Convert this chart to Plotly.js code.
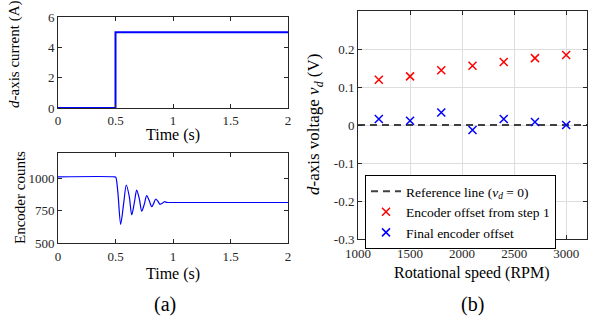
<!DOCTYPE html>
<html><head><meta charset="utf-8">
<script src="https://cdn.plot.ly/plotly-3.0.1.min.js"></script>
<style>html,body{margin:0;padding:0;background:#fff}#plot{width:591px;height:324px}</style>
</head><body><div id="plot"></div>
<script>
// Panel (a) top: d-axis current step
var curT = [0, 0.5, 0.5, 2];
var curI = [0, 0, 5, 5];
// Panel (a) bottom: encoder counts
var encT = [0, 0.49, 0.502, 0.52, 0.545, 0.57, 0.594, 0.62, 0.641, 0.665, 0.684, 0.707, 0.728, 0.75, 0.771, 0.793, 0.815, 0.833, 0.85, 0.868, 0.887, 0.906, 0.925, 0.945, 0.965, 2];
var encC = [1015, 1015, 1012, 900, 645, 800, 951, 860, 718, 820, 912, 845, 748, 800, 868, 830, 782, 810, 842, 825, 801, 808, 821, 816, 815, 815];
// Panel (b): d-axis voltage vs speed
var speed = [1200, 1500, 1800, 2100, 2400, 2700, 3000];
var vdStep1 = [0.119, 0.128, 0.144, 0.156, 0.166, 0.176, 0.184];
var vdFinal = [0.016, 0.011, 0.033, -0.013, 0.016, 0.008, 0.0];
var refX = [1000, 3200];
var refY = [0, 0];

var W = 591, H = 324;
function px(x){return x/W;}
function py(y){return 1 - y/H;}
var serif = "Liberation Serif";
var axc = "#262626";

var traces = [
  {x: curT, y: curI, xaxis: 'x', yaxis: 'y', mode: 'lines', line: {color: '#0000ff', width: 2}, showlegend: false},
  {x: encT, y: encC, xaxis: 'x2', yaxis: 'y2', mode: 'lines', line: {color: '#0000ff', width: 1.2, shape: 'spline', smoothing: 0.8}, showlegend: false},
  {x: refX, y: refY, xaxis: 'x3', yaxis: 'y3', mode: 'lines', name: 'Reference line (<i>v<sub>d</sub></i> = 0)', line: {color: '#404040', width: 2, dash: '7px,5px'}},
  {x: speed, y: vdStep1, xaxis: 'x3', yaxis: 'y3', mode: 'markers', name: 'Encoder offset from step 1', marker: {symbol: 'x-thin-open', size: 8, color: '#ff0000', line: {color: '#ff0000', width: 1.5}}},
  {x: speed, y: vdFinal, xaxis: 'x3', yaxis: 'y3', mode: 'markers', name: 'Final encoder offset', marker: {symbol: 'x-thin-open', size: 8, color: '#0000ff', line: {color: '#0000ff', width: 1.5}}}
];

function ax(extra){
  var base = {showline: true, linecolor: axc, linewidth: 1, mirror: 'ticks', ticks: 'inside', ticklen: 4, tickcolor: axc,
    tickfont: {family: serif, size: 13, color: axc}, zeroline: false, showgrid: false, fixedrange: true};
  for (var k in extra) base[k] = extra[k];
  return base;
}
function ann(text, x, y, size, angle){
  return {text: text, x: px(x), y: py(y), xref: 'paper', yref: 'paper', xanchor: 'center', yanchor: 'middle',
    textangle: angle || 0, showarrow: false, font: {size: size, family: serif, color: '#000'}};
}

var layout = {
  width: W, height: H, margin: {l: 0, r: 0, t: 0, b: 0},
  paper_bgcolor: '#fff', plot_bgcolor: '#fff',
  font: {family: serif, color: axc},
  xaxis: ax({domain: [px(58), px(288)], range: [0, 2], tickvals: [0, 0.5, 1, 1.5, 2], ticktext: ['0','0.5','1','1.5','2'], anchor: 'y', ticklabelstandoff: 0}),
  yaxis: ax({domain: [py(108), py(17)], range: [0, 6], tickvals: [0, 2, 4, 6], anchor: 'x'}),
  xaxis2: ax({domain: [px(58), px(288)], range: [0, 2], tickvals: [0, 0.5, 1, 1.5, 2], ticktext: ['0','0.5','1','1.5','2'], anchor: 'y2', ticklabelstandoff: 1}),
  yaxis2: ax({domain: [py(243), py(153)], range: [500, 1200], tickvals: [500, 750, 1000], anchor: 'x2'}),
  xaxis3: ax({domain: [px(358), px(587)], range: [1000, 3200], tickvals: [1000, 1500, 2000, 2500, 3000], anchor: 'y3', showgrid: true, gridcolor: '#dedede', ticklabelstandoff: 2}),
  yaxis3: ax({domain: [py(239), py(11)], range: [-0.3, 0.3], tickvals: [-0.3, -0.2, -0.1, 0, 0.1, 0.2], ticktext: ['-0.3','-0.2','-0.1','0','0.1','0.2'], anchor: 'x3', showgrid: true, gridcolor: '#dedede'}),
  showlegend: true,
  legend: {x: px(365), y: py(175), xanchor: 'left', yanchor: 'top', bgcolor: '#fff', bordercolor: '#000', borderwidth: 1,
    font: {family: serif, size: 13.5, color: '#000'}, itemwidth: 30, tracegroupgap: 0},
  annotations: [
    ann('<i>d</i>-axis current (A)', 15, 55, 15, -90),
    ann('Time (s)', 173, 135, 16),
    ann('Encoder counts', 20, 198, 15, -90),
    ann('Time (s)', 173, 274, 16),
    ann('(a)', 165, 304, 20),
    ann('<i>d</i>-axis voltage <i>v<sub>d</sub></i> (V)', 315, 125, 17, -90),
    ann('Rotational speed (RPM)', 472, 273, 16),
    ann('(b)', 472, 304, 20)
  ]
};

Plotly.newPlot('plot', traces, layout, {displayModeBar: false, staticPlot: true});
</script>
</body></html>
